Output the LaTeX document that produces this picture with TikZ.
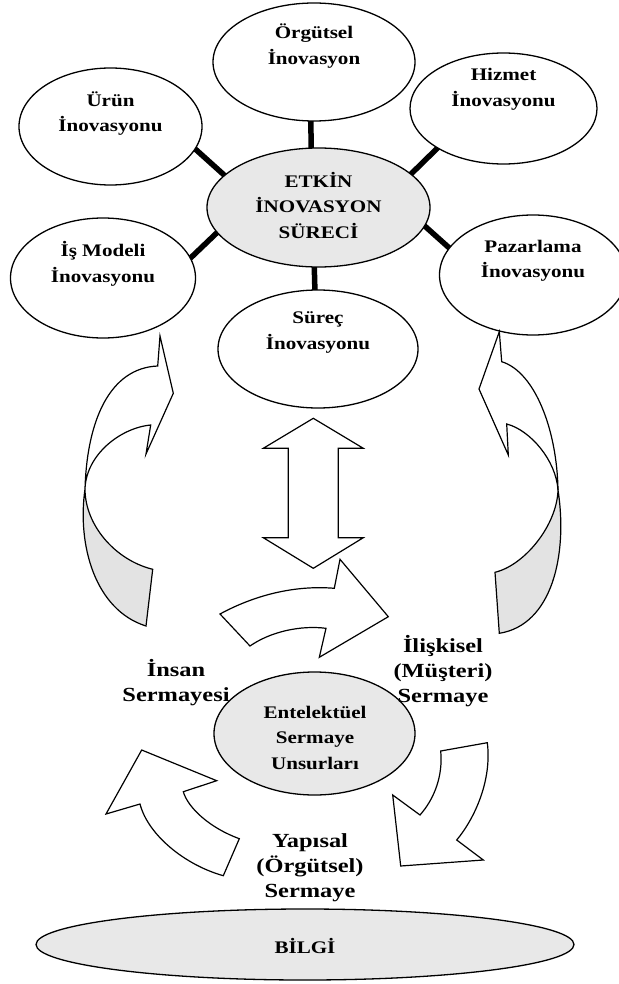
\documentclass[tikz,border=0pt]{standalone}
\usepackage{fontspec}
\setmainfont{Liberation Serif}
\newfontfamily\topfont{Liberation Serif}[FakeStretch=1.19]
\newfontfamily\capfont{Liberation Serif}[FakeStretch=1.22]
\usetikzlibrary{shapes.geometric,backgrounds}
\newcommand\mystrut{\rule[-0.25em]{0pt}{1.15em}}
\tikzset{
  bubble/.style={ellipse, draw, line width=1.3pt, fill=white, inner sep=0pt},
  hub/.style={bubble, fill=gray!18},
  txt/.style={align=center, inner sep=0pt, font=\topfont\bfseries\fontsize{17.7}{25.5}\selectfont},
  captxt/.style={align=center, inner sep=0pt, font=\capfont\bfseries\fontsize{20}{25}\selectfont},
  spoke/.style={line width=5.5pt, shorten <=-4pt, shorten >=-4pt},
  blockarrow/.style={draw, line width=1.2pt, fill=white, line join=miter},
  backside/.style={draw, line width=1.2pt, fill=gray!22, line join=miter}
}
\begin{document}
\begin{tikzpicture}[x=1pt,y=-1pt]
\useasboundingbox (0,0) rectangle (618,984);

% top cluster
\node[hub, minimum width=223pt, minimum height=119pt] (etkin) at (318.5,207.5) {};
\node[bubble, minimum width=202pt, minimum height=118pt] (org) at (314,62) {};
\node[bubble, minimum width=187pt, minimum height=111pt] (hiz) at (503.5,108.5) {};
\node[bubble, minimum width=183pt, minimum height=117pt] (urun) at (110.5,126.5) {};
\node[bubble, minimum width=185pt, minimum height=120pt] (is) at (103,278) {};
\node[bubble, minimum width=187pt, minimum height=120pt] (paz) at (533,275) {};
\node[bubble, minimum width=200pt, minimum height=118pt] (surec) at (318,349) {};

\begin{pgfonlayer}{background}
\draw[spoke] (urun.-15) -- (etkin.161.5);
\draw[spoke] (hiz.-149.4) -- (etkin.20.5);
\draw[spoke] (is.13) -- (etkin.194.4);
\draw[spoke] (paz.162.2) -- (etkin.-10.7);
\draw[spoke] (org.-93.3) -- (etkin.97.7);
\draw[spoke] (surec.93.8) -- (etkin.-94.3);
\end{pgfonlayer}

\node[txt] (orgt) at (314,46) {\mystrut Örgütsel\\\mystrut İnovasyon};
\node[txt] (hizt) at (503.5,87.5) {\mystrut Hizmet\\\mystrut İnovasyonu};
\node[txt] (urunt) at (110.5,113) {\mystrut Ürün\\\mystrut İnovasyonu};
\node[txt] (etkint) at (318.5,207) {\mystrut ETKİN\\\mystrut İNOVASYON\\\mystrut SÜRECİ};
\node[txt] (ist) at (103,263.5) {\mystrut İş Modeli\\\mystrut İnovasyonu};
\node[txt] (pazt) at (533,259) {\mystrut Pazarlama\\\mystrut İnovasyonu};
\node[txt] (surect) at (318,330.5) {\mystrut Süreç\\\mystrut İnovasyonu};

% left side curved arrow
\draw[blockarrow] (85,489) .. controls (87,420) and (110,368) .. (157.7,366)
  -- (160,336) -- (173.3,393.3) -- (146,454) -- (150.7,425)
  .. controls (120,428) and (86,455) .. (85,489) -- cycle;
\draw[backside] (85,489) .. controls (77,545) and (95,610) .. (146,626)
  -- (152.7,569.3) .. controls (115,560) and (85,525) .. (85,489) -- cycle;

% right side curved arrow
\draw[blockarrow] (558,490) .. controls (557,430) and (535,372) .. (501.7,361.7)
  -- (499.3,331.7) -- (479,389) -- (508.3,455) -- (506.7,424)
  .. controls (530,430) and (556,460) .. (558,490) -- cycle;
\draw[backside] (558,490) .. controls (568,555) and (552,625) .. (499.3,633.3)
  -- (495,572.3) .. controls (525,565) and (557,525) .. (558,490) -- cycle;

% double arrow
\draw[blockarrow] (313.3,418.3) -- (363.3,448.3) -- (338.3,448.3) -- (338.3,537.7)
  -- (363.3,537.7) -- (313.3,568.3) -- (263.3,537.7) -- (288.3,537.7)
  -- (288.3,448.3) -- (263.3,448.3) -- cycle;

% cycle arrows
\draw[blockarrow] (220,614) .. controls (255,595) and (295,585) .. (334.3,588.3)
  -- (340,559.3) -- (388.3,616.7) -- (319.3,657.3) -- (326,628.3)
  .. controls (300,625) and (270,632) .. (250,646) -- cycle;
\draw[blockarrow] (141.7,750) -- (216.7,780.7) -- (183.3,791.7)
  .. controls (188,808) and (210,828) .. (239.3,838.7) -- (223.3,875.7)
  .. controls (185,865) and (148,835) .. (140,804) -- (106,814) -- cycle;
\draw[blockarrow] (440.7,751) -- (487.3,742.7)
  .. controls (492,780) and (475,818) .. (456.7,840) -- (483.3,860)
  -- (400.7,866) -- (392.7,795) -- (420,815)
  .. controls (435,798) and (443,775) .. (440.7,751) -- cycle;

% intellectual capital
\node[hub, minimum width=201pt, minimum height=123pt] (ent) at (314.5,733.5) {};
\node[txt] (entt) at (315,738) {\mystrut Entelektüel\\\mystrut Sermaye\\\mystrut Unsurları};
\node[captxt] (insan) at (176,682.5) {\mystrut İnsan\\\mystrut Sermayesi};
\node[captxt] (iliski) at (443,670.5) {\mystrut İlişkisel\\\mystrut (Müşteri)\\\mystrut Sermaye};
\node[captxt] (yapi) at (310,866) {\mystrut Yapısal\\\mystrut (Örgütsel)\\\mystrut Sermaye};

% knowledge
\node[hub, minimum width=538pt, minimum height=71pt] (bilgi) at (305,944.5) {};
\node[font=\topfont\bfseries\fontsize{17.7}{22}\selectfont, inner sep=0pt] (bilgit) at (305,946) {BİLGİ};
\end{tikzpicture}
\end{document}
